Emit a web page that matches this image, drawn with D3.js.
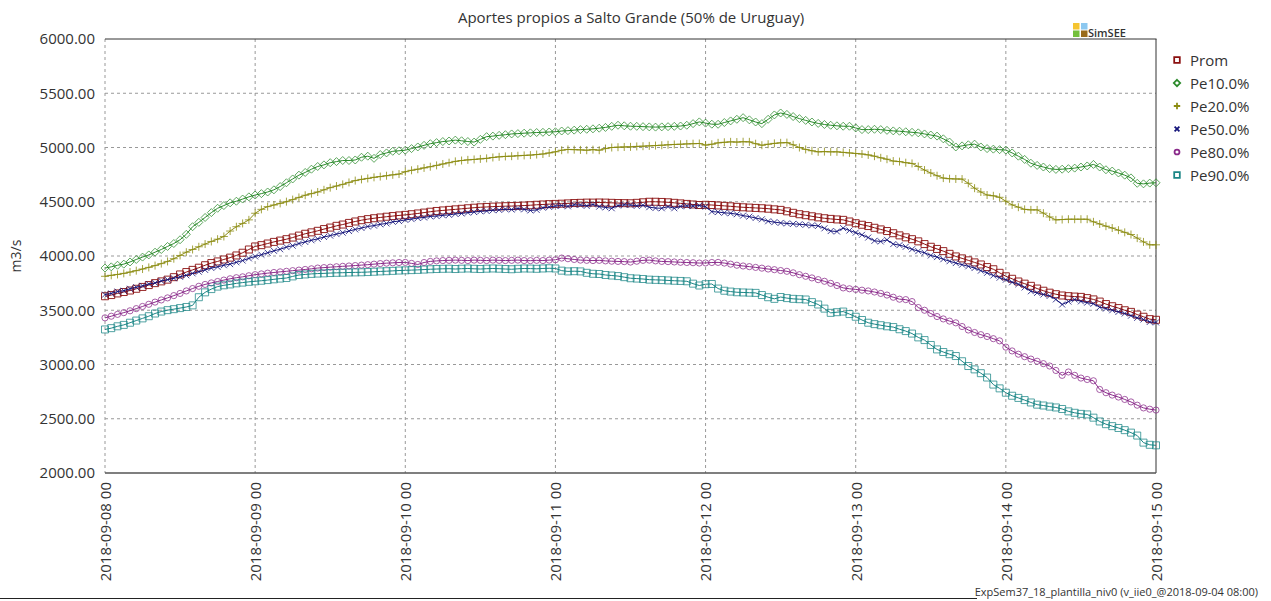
<!DOCTYPE html>
<html>
<head>
<meta charset="utf-8">
<script src="https://cdn.jsdelivr.net/npm/d3@7"></script>
<style>
  body { margin: 0; background: #fff; }
  text { font-family: "Open Sans", "Noto Sans", sans-serif; fill: #333; }
</style>
</head>
<body>
<svg id="chart" width="1271" height="601"></svg>
<script>
const seriesNames = ['Prom', 'Pe10.0%', 'Pe20.0%', 'Pe50.0%', 'Pe80.0%', 'Pe90.0%'];

// hourly values, 2018-09-08 00 .. 2018-09-15 00
const prom = [
  3629, 3640, 3655, 3668, 3682, 3698, 3715, 3732, 3750, 3766, 3782, 3805, 3830, 3852, 3872, 3892, 3915, 3935, 3950, 3968, 3985, 4005, 4030, 4060,
  4088, 4100, 4115, 4130, 4142, 4155, 4170, 4188, 4205, 4218, 4232, 4248, 4262, 4278, 4290, 4305, 4318, 4330, 4340, 4348, 4355, 4362, 4368, 4374,
  4379, 4385, 4392, 4400, 4408, 4415, 4420, 4425, 4430, 4435, 4440, 4445, 4449, 4452, 4455, 4457, 4459, 4460, 4462, 4465, 4468, 4472, 4475, 4478,
  4480, 4482, 4485, 4488, 4490, 4492, 4492, 4493, 4492, 4490, 4488, 4487, 4486, 4490, 4495, 4500, 4500, 4498, 4495, 4490, 4485, 4480, 4475, 4470,
  4472, 4470, 4466, 4462, 4458, 4453, 4449, 4446, 4443, 4440, 4436, 4430, 4425, 4412, 4398, 4385, 4376, 4366, 4356, 4348, 4342, 4337, 4333, 4318,
  4302, 4288, 4276, 4260, 4245, 4230, 4210, 4190, 4172, 4155, 4135, 4110, 4085, 4065, 4045, 4020, 3996, 3978, 3960, 3941, 3922, 3898, 3878, 3845,
  3813, 3790, 3765, 3745, 3725, 3700, 3680, 3662, 3648, 3636, 3630, 3626, 3623, 3612, 3600, 3580, 3557, 3537, 3520, 3500, 3485, 3460, 3440, 3418,
  3412
];
const pe10 = [
  3889, 3900, 3915, 3925, 3945, 3968, 3990, 4010, 4035, 4060, 4088, 4115, 4150, 4200, 4270, 4310, 4355, 4400, 4440, 4465, 4490, 4505, 4525, 4545,
  4562, 4575, 4590, 4610, 4640, 4675, 4710, 4745, 4770, 4800, 4825, 4840, 4860, 4870, 4880, 4880, 4885, 4910, 4920, 4900, 4935, 4950, 4965, 4970,
  4975, 4990, 5005, 5020, 5035, 5045, 5055, 5060, 5068, 5062, 5055, 5050, 5075, 5100, 5105, 5112, 5118, 5125, 5128, 5132, 5135, 5138, 5140, 5143,
  5145, 5152, 5155, 5160, 5165, 5168, 5172, 5178, 5185, 5195, 5205, 5200, 5196, 5195, 5192, 5190, 5188, 5190, 5192, 5195, 5198, 5205, 5220, 5236,
  5225, 5215, 5214, 5230, 5245, 5260, 5275, 5255, 5235, 5220, 5260, 5300, 5318, 5305, 5285, 5266, 5250, 5235, 5222, 5212, 5205, 5200, 5196, 5196,
  5180, 5165, 5165, 5168, 5165, 5158, 5153, 5150, 5145, 5140, 5135, 5125, 5115, 5105, 5080, 5050, 5005, 5015, 5025, 5031, 5005, 4990, 4985, 4980,
  4976, 4950, 4920, 4890, 4855, 4835, 4820, 4805, 4798, 4800, 4805, 4810, 4820, 4830, 4844, 4820, 4795, 4783, 4765, 4745, 4720, 4670, 4665, 4672,
  4675
];
const pe20 = [
  3813, 3822, 3830, 3840, 3852, 3865, 3880, 3895, 3912, 3930, 3950, 3975, 4005, 4035, 4060, 4085, 4110, 4134, 4155, 4180, 4230, 4270, 4300, 4333,
  4394, 4430, 4455, 4470, 4485, 4501, 4520, 4540, 4560, 4575, 4590, 4610, 4630, 4645, 4660, 4678, 4695, 4706, 4715, 4725, 4732, 4740, 4748, 4755,
  4777, 4790, 4800, 4812, 4823, 4835, 4848, 4860, 4872, 4880, 4886, 4890, 4895, 4900, 4908, 4914, 4918, 4920, 4924, 4927, 4930, 4935, 4940, 4950,
  4960, 4975, 4982, 4980, 4978, 4975, 4980, 4975, 4990, 5000, 5003, 5005, 5006, 5010, 5012, 5015, 5018, 5021, 5025, 5028, 5030, 5033, 5035, 5037,
  5022, 5030, 5043, 5048, 5052, 5050, 5053, 5052, 5035, 5021, 5030, 5038, 5043, 5045, 5025, 5000, 4982, 4970, 4960, 4962, 4960, 4960, 4955, 4950,
  4945, 4940, 4932, 4920, 4905, 4892, 4875, 4870, 4860, 4853, 4825, 4792, 4765, 4740, 4718, 4712, 4710, 4709, 4670, 4625, 4590, 4562, 4555, 4541,
  4505, 4471, 4450, 4430, 4425, 4425, 4395, 4360, 4333, 4336, 4339, 4339, 4339, 4339, 4315, 4295, 4275, 4258, 4238, 4218, 4198, 4165, 4130, 4103,
  4103
];
const pe50 = [
  3644, 3655, 3672, 3680, 3698, 3712, 3725, 3742, 3752, 3770, 3782, 3795, 3808, 3822, 3840, 3855, 3872, 3889, 3900, 3915, 3925, 3942, 3958, 3978,
  3996, 4012, 4030, 4048, 4062, 4082, 4095, 4115, 4130, 4145, 4158, 4175, 4188, 4202, 4215, 4230, 4245, 4258, 4272, 4280, 4292, 4300, 4315, 4322,
  4333, 4340, 4350, 4355, 4365, 4368, 4375, 4379, 4388, 4392, 4400, 4405, 4412, 4415, 4422, 4425, 4432, 4428, 4438, 4430, 4420, 4425, 4445, 4452,
  4461, 4465, 4458, 4472, 4470, 4462, 4475, 4455, 4448, 4440, 4465, 4472, 4470, 4462, 4468, 4450, 4442, 4440, 4455, 4440, 4458, 4462, 4460, 4465,
  4455, 4409, 4405, 4398, 4394, 4385, 4372, 4363, 4350, 4338, 4320, 4312, 4305, 4300, 4296, 4292, 4288, 4282, 4278, 4255, 4230, 4226, 4257, 4235,
  4215, 4195, 4170, 4140, 4134, 4149, 4110, 4100, 4085, 4062, 4045, 4030, 4005, 3990, 3970, 3952, 3935, 3920, 3905, 3889, 3865, 3845, 3820, 3800,
  3782, 3758, 3740, 3710, 3675, 3660, 3645, 3632, 3600, 3553, 3580, 3599, 3582, 3570, 3560, 3528, 3515, 3500, 3485, 3470, 3450, 3430, 3415, 3392,
  3388
];
const pe80 = [
  3430, 3445, 3462, 3478, 3495, 3515, 3535, 3555, 3575, 3595, 3614, 3635, 3655, 3678, 3700, 3721, 3738, 3752, 3765, 3778, 3790, 3800, 3808, 3818,
  3828, 3835, 3842, 3848, 3854, 3859, 3865, 3870, 3876, 3882, 3889, 3893, 3897, 3901, 3905, 3908, 3912, 3916, 3920, 3925, 3930, 3934, 3937, 3940,
  3941, 3932, 3922, 3940, 3950, 3955, 3958, 3960, 3962, 3960, 3958, 3962, 3960, 3958, 3962, 3960, 3958, 3960, 3962, 3958, 3957, 3960, 3958, 3962,
  3965, 3981, 3975, 3968, 3962, 3960, 3958, 3960, 3955, 3952, 3950, 3948, 3944, 3952, 3960, 3962, 3955, 3950, 3948, 3945, 3942, 3940, 3938, 3935,
  3936, 3940, 3941, 3935, 3925, 3915, 3908, 3902, 3895, 3888, 3880, 3874, 3866, 3859, 3845, 3828, 3813, 3798, 3782, 3767, 3748, 3728, 3706, 3698,
  3692, 3685, 3678, 3668, 3655, 3640, 3620, 3602, 3598, 3580, 3525, 3500, 3470, 3442, 3420, 3400, 3384, 3350, 3318, 3295, 3275, 3258, 3238, 3218,
  3160, 3125, 3095, 3072, 3050, 3030, 3008, 2986, 2945, 2900, 2931, 2900, 2875, 2862, 2850, 2770, 2740, 2718, 2700, 2678, 2655, 2625, 2600, 2588,
  2580
];
const pe90 = [
  3323, 3335, 3352, 3365, 3385, 3405, 3425, 3445, 3470, 3488, 3501, 3510, 3520, 3530, 3545, 3620, 3665, 3695, 3718, 3730, 3738, 3748, 3755, 3762,
  3767, 3772, 3778, 3785, 3792, 3797, 3812, 3825, 3830, 3835, 3838, 3840, 3843, 3845, 3846, 3848, 3849, 3850, 3852, 3855, 3858, 3860, 3863, 3866,
  3868, 3870, 3872, 3875, 3878, 3880, 3882, 3883, 3880, 3883, 3885, 3882, 3880, 3883, 3885, 3883, 3880, 3878, 3882, 3885, 3884, 3882, 3885, 3887,
  3885, 3865, 3858, 3860, 3858, 3845, 3836, 3834, 3825, 3820, 3815, 3805, 3795, 3792, 3788, 3782, 3780, 3778, 3775, 3772, 3770, 3767, 3745, 3728,
  3740, 3742, 3700, 3680, 3672, 3666, 3664, 3662, 3660, 3640, 3620, 3605, 3622, 3612, 3605, 3602, 3599, 3575, 3553, 3515, 3476, 3482, 3488, 3465,
  3440, 3410, 3385, 3372, 3362, 3352, 3345, 3325, 3308, 3285, 3250, 3225, 3180, 3139, 3115, 3095, 3078, 3030, 2986, 2955, 2920, 2880, 2815, 2780,
  2740, 2712, 2692, 2672, 2650, 2630, 2622, 2612, 2604, 2590, 2568, 2555, 2545, 2540, 2510, 2475, 2450, 2432, 2415, 2395, 2372, 2345, 2280, 2260,
  2255
];

const seriesColors = ['#8b1010', '#2a8a2a', '#8c8c12', '#14147a', '#8a2a8a', '#1a8585'];
const markerOpacity = [0.9, 0.75, 0.8, 0.8, 0.75, 0.75];
const markerPaths = [
  'M-3.5,-3.5h7v7h-7z',
  'M0,-4L4,0L0,4L-4,0Z',
  'M-4,0H4M0,-4V4',
  'M-3,-3L3,3M-3,3L3,-3',
  d3.symbol(d3.symbolCircle, 30)(),
  'M-3.5,-3.5h7v7h-7z'
];

const plotLeft = 105, plotRight = 1156, plotTop = 39, plotBottom = 473;
const start = Date.UTC(2018, 8, 8);
const hour = 3600 * 1000;

const svg = d3.select('#chart');

const x = d3.scaleUtc()
  .domain([new Date(start), new Date(start + 168 * hour)])
  .range([plotLeft, plotRight]);

const y = d3.scaleLinear()
  .domain([2000, 6000])
  .range([plotBottom, plotTop]);

// grid
const dayTicks = x.ticks(d3.utcDay.every(1));
const yTicks = d3.range(2000, 6001, 500);

svg.append('g')
  .selectAll('line')
  .data(yTicks.slice(1, -1))
  .enter()
  .append('line')
  .attr('x1', plotLeft).attr('x2', plotRight)
  .attr('y1', (d) => y(d)).attr('y2', (d) => y(d))
  .attr('stroke', '#999').attr('stroke-dasharray', '3,3');

svg.append('g')
  .selectAll('line')
  .data(dayTicks.slice(0, -1))
  .enter()
  .append('line')
  .attr('x1', (d) => x(d)).attr('x2', (d) => x(d))
  .attr('y1', plotTop).attr('y2', plotBottom)
  .attr('stroke', '#999').attr('stroke-dasharray', '3,3');

// frame
svg.append('line').attr('x1', plotLeft).attr('x2', plotRight + 0.5).attr('y1', plotTop).attr('y2', plotTop).attr('stroke', '#333');
svg.append('line').attr('x1', plotRight).attr('x2', plotRight).attr('y1', plotTop).attr('y2', plotBottom).attr('stroke', '#333');
svg.append('line').attr('x1', plotLeft).attr('x2', plotRight).attr('y1', plotBottom).attr('y2', plotBottom).attr('stroke', '#555').attr('stroke-width', 1.5);

// axes
const leftAxis = d3.axisLeft(y).tickValues(yTicks).tickFormat(d3.format('.2f')).tickSize(0).tickPadding(10);
svg.append('g')
  .attr('transform', `translate(${plotLeft}, 0)`)
  .call(leftAxis)
  .call((g) => g.select('.domain').remove())
  .selectAll('text')
  .style('font-size', '15px')
  .attr('fill', '#333');

const bottomAxis = d3.axisBottom(x).tickValues(dayTicks).tickFormat(d3.utcFormat('%Y-%m-%d %H')).tickSize(0);
svg.append('g')
  .attr('transform', `translate(0, ${plotBottom})`)
  .call(bottomAxis)
  .call((g) => g.select('.domain').remove())
  .selectAll('text')
  .style('font-size', '15px')
  .attr('fill', '#333')
  .attr('transform', 'rotate(-90)')
  .attr('text-anchor', 'end')
  .attr('x', -9)
  .attr('y', 0)
  .attr('dy', '0.36em');

// series
const allSeries = [prom, pe10, pe20, pe50, pe80, pe90];
const line = d3.line()
  .x((d, i) => x(new Date(start + i * hour)))
  .y((d) => y(d));

allSeries.forEach((values, k) => {
  const g = svg.append('g');
  g.append('path')
    .attr('d', line(values))
    .attr('fill', 'none')
    .attr('stroke', seriesColors[k])
    .attr('stroke-width', 1);
  g.selectAll('path.m')
    .data(values)
    .enter()
    .append('path')
    .attr('class', 'm')
    .attr('d', markerPaths[k])
    .attr('transform', (d, i) => `translate(${x(new Date(start + i * hour))}, ${y(d)})`)
    .attr('fill', 'none')
    .attr('stroke', seriesColors[k])
    .attr('stroke-opacity', markerOpacity[k])
    .attr('stroke-width', 1);
});

// legend
const legend = svg.append('g').attr('transform', 'translate(1177, 60)');
seriesNames.forEach((name, k) => {
  const row = legend.append('g').attr('transform', `translate(0, ${k * 23})`);
  row.append('path')
    .attr('d', markerPaths[k])
    .attr('transform', 'scale(0.8)')
    .attr('fill', 'none')
    .attr('stroke', seriesColors[k])
    .attr('stroke-width', 2.2);
  row.append('text')
    .attr('x', 13)
    .attr('y', 5.5)
    .style('font-size', '15px')
    .text(name);
});

// title and labels
svg.append('text')
  .attr('x', 631).attr('y', 23)
  .attr('text-anchor', 'middle')
  .style('font-size', '15px')
  .text('Aportes propios a Salto Grande (50% de Uruguay)');

svg.append('text')
  .attr('transform', 'translate(21, 256) rotate(-90)')
  .attr('text-anchor', 'middle')
  .style('font-size', '14px')
  .text('m3/s');

// SimSEE mark
const logo = svg.append('g').attr('transform', 'translate(1073, 23)');
[['#f5c430', 0, 0], ['#8cc8f0', 8, 0], ['#74c03c', 0, 7.5], ['#9a6a1a', 8, 7.5]].forEach(([c, dx, dy]) => {
  logo.append('rect').attr('x', dx).attr('y', dy).attr('width', 6.5).attr('height', 6.5).attr('fill', c);
});
svg.append('text')
  .attr('x', 1088).attr('y', 37)
  .style('font-size', '11px')
  .style('font-weight', '600')
  .text('SimSEE');

// footer
svg.append('line').attr('x1', 0).attr('x2', 977).attr('y1', 598.5).attr('y2', 598.5).attr('stroke', '#222');
svg.append('text')
  .attr('x', 1258).attr('y', 596)
  .attr('text-anchor', 'end')
  .style('font-size', '11px')
  .attr('fill', '#222')
  .text('ExpSem37_18_plantilla_niv0 (v_iie0_@2018-09-04 08:00)');
</script>
</body>
</html>
